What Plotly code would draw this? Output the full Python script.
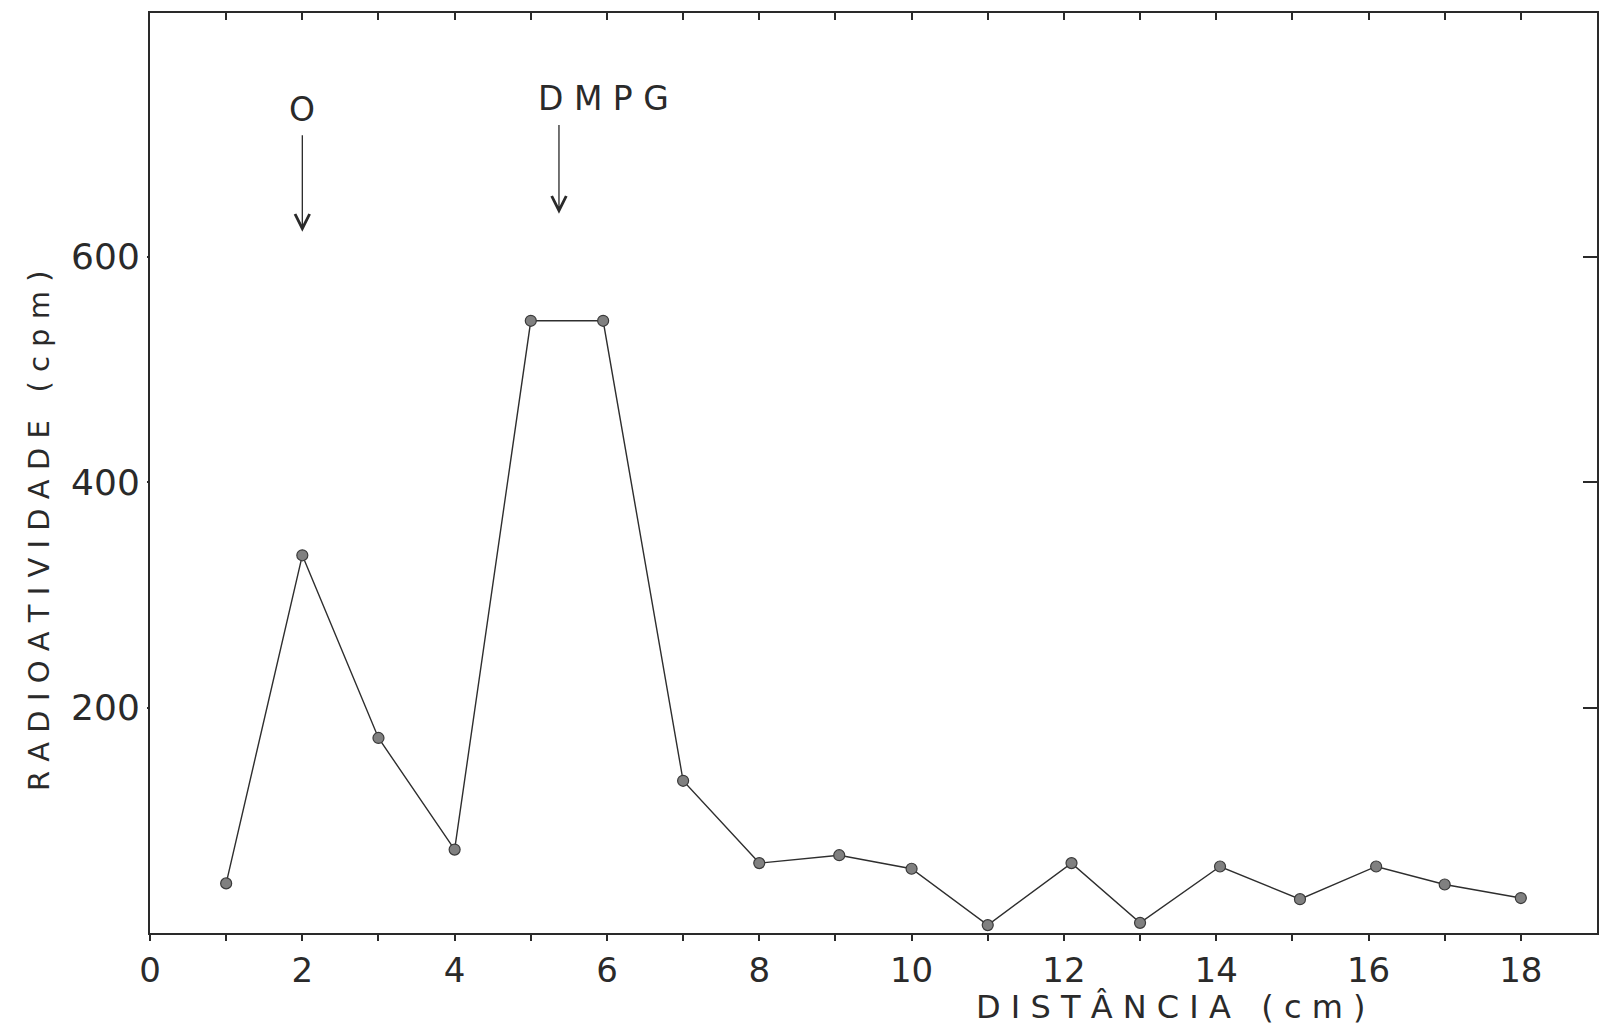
import plotly.graph_objects as go

# ---- data ----
distancia_cm = [1, 2, 3, 4, 5, 5.95, 7, 8, 9.05, 10, 11, 12.1, 13, 14.05, 15.1, 16.1, 17, 18]
radioatividade_cpm = [44, 335, 173, 74, 543, 543, 135, 62, 69, 57, 7, 62, 9, 59, 30, 59, 43, 31]

x_tick_vals = list(range(0, 19))
x_tick_text = [str(v) if v % 2 == 0 else "" for v in x_tick_vals]
y_tick_vals = [200, 400, 600]
y_tick_text = ["200", "400", "600"]

# reference markers (label, arrow x, text x, text y, arrow tail y, arrow head y)
ref_labels = ["O", "D M P G"]
ref_arrow_x = [2.0, 5.37]
ref_text_x = [2.0, 5.95]
ref_text_y = [730, 740]
ref_tail_y = [709, 718]
ref_head_y = [622, 638]

x_title = "D I S T Â N C I A   ( c m )"
y_title = "R A D I O A T I V I D A D E   ( c p m )"

FONT = "DejaVu Sans, Liberation Sans, sans-serif"
INK = "#2a2a2a"

fig = go.Figure()
fig.add_trace(go.Scatter(
    x=distancia_cm, y=radioatividade_cpm, mode="lines+markers",
    line=dict(color="#2e2e2e", width=1.4),
    marker=dict(size=11, color="#808080", line=dict(color="#3a3a3a", width=1.2)),
    showlegend=False, hoverinfo="x+y",
))
# invisible trace so the mirrored top/right axes are drawn
fig.add_trace(go.Scatter(x=[None], y=[None], xaxis="x2", yaxis="y2",
                         showlegend=False, hoverinfo="skip"))

annotations = []
for lab, ax_, tx, ty, tail, head in zip(ref_labels, ref_arrow_x, ref_text_x,
                                         ref_text_y, ref_tail_y, ref_head_y):
    annotations.append(dict(
        x=tx, y=ty, xref="x", yref="y", text=lab, showarrow=False,
        font=dict(family=FONT, size=33, color=INK), xanchor="center", yanchor="middle",
    ))
    annotations.append(dict(
        x=ax_, y=head, ax=ax_, ay=tail, xref="x", yref="y", axref="x", ayref="y",
        text="", showarrow=True, arrowhead=5, arrowsize=2.2, arrowwidth=1.3,
        arrowcolor=INK,
    ))

annotations.append(dict(
    x=13.4, y=0, xref="x", yref="paper", yshift=-74, text=x_title, showarrow=False,
    font=dict(family=FONT, size=32, color=INK), xanchor="center", yanchor="middle",
))
annotations.append(dict(
    x=-0.077, y=357, xref="paper", yref="y", text=y_title, showarrow=False,
    textangle=-90, font=dict(family=FONT, size=29, color=INK),
    xanchor="center", yanchor="middle",
))

fig.update_layout(
    width=1591, height=1017,
    margin=dict(l=142, r=2, t=5, b=92),
    paper_bgcolor="white", plot_bgcolor="white",
    font=dict(family=FONT, color=INK),
    xaxis=dict(
        range=[0, 19], tickvals=x_tick_vals, ticktext=x_tick_text,
        ticks="outside", ticklen=6, tickwidth=1.5, tickcolor=INK,
        showline=True, linecolor=INK, linewidth=2, showgrid=False, zeroline=False,
        tickfont=dict(family=FONT, size=34, color=INK),
    ),
    yaxis=dict(
        range=[0, 816], tickvals=y_tick_vals, ticktext=y_tick_text,
        ticks="outside", ticklen=1, tickwidth=1.5, tickcolor=INK,
        showline=True, linecolor=INK, linewidth=2, showgrid=False, zeroline=False,
        tickfont=dict(family=FONT, size=36, color=INK),
    ),
    xaxis2=dict(
        overlaying="x", side="top", anchor="y", range=[0, 19],
        tickvals=list(range(1, 19)), ticks="inside", ticklen=7, tickwidth=1.5,
        tickcolor=INK, showticklabels=False, showline=True, linecolor=INK,
        linewidth=2, showgrid=False, zeroline=False,
    ),
    yaxis2=dict(
        overlaying="y", side="right", anchor="x", range=[0, 816],
        tickvals=y_tick_vals, ticks="inside", ticklen=14, tickwidth=1.8,
        tickcolor=INK, showticklabels=False, showline=True, linecolor=INK,
        linewidth=2, showgrid=False, zeroline=False,
    ),
    annotations=annotations,
)

fig.write_html("out.html")
